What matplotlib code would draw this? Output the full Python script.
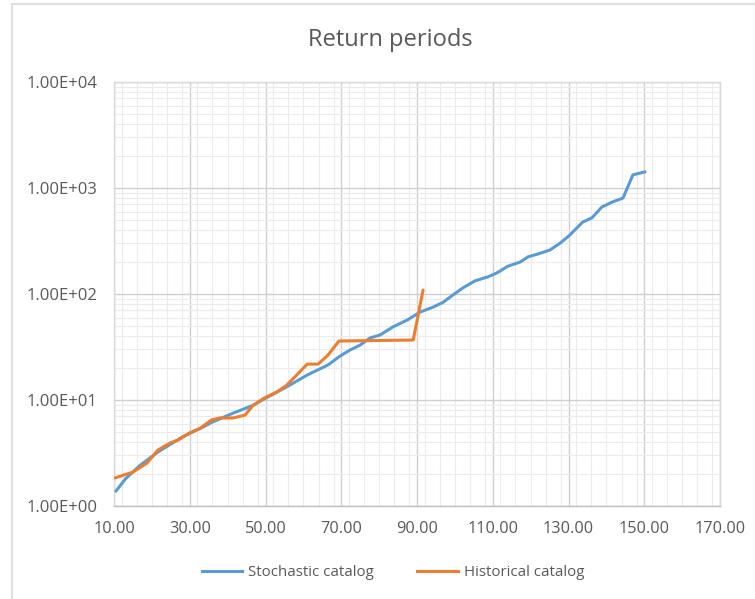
import matplotlib
matplotlib.use("Agg")
import matplotlib.pyplot as plt
from matplotlib.ticker import MultipleLocator, LogLocator, FixedLocator, FuncFormatter, NullFormatter
from matplotlib.lines import Line2D

# ---- data ----
stoch_x = [10.5, 13.0, 17.0, 21.6, 28.0, 33.5, 36.0, 41.4, 46.7, 49.6, 55.6, 61.0, 66.5,
           69.7, 72.3, 75.0, 77.6, 80.2, 83.7, 87.5, 90.8, 94.2, 96.9, 99.5, 102.1, 105.3,
           108.7, 111.1, 114.0, 117.2, 119.3, 122.0, 125.1, 127.8, 130.4, 132.2, 133.8,
           136.2, 138.8, 141.7, 144.4, 147.0, 150.2]
stoch_y = [1.38, 1.8, 2.44, 3.23, 4.47, 5.56, 6.2, 7.5, 8.9, 10.2, 13.3, 17.2, 21.4,
           26.0, 29.6, 33.0, 38.5, 41.0, 49.0, 57.0, 67.6, 75.0, 83.5, 98.0, 114.0, 133.0,
           145.0, 158.0, 183.0, 200.0, 224.0, 239.0, 260.0, 302.0, 361.0, 420.0, 478.0,
           523.0, 662.0, 741.0, 804.0, 1330.0, 1420.0]

hist_x = [10.3, 15.0, 18.7, 21.6, 24.8, 27.0, 30.0, 32.7, 35.8, 38.0, 41.4, 44.6, 46.7,
          49.6, 53.0, 55.6, 58.3, 61.0, 63.9, 66.5, 69.4, 89.0, 91.6]
hist_y = [1.84, 2.09, 2.54, 3.37, 3.93, 4.2, 4.9, 5.4, 6.5, 6.77, 6.77, 7.2, 8.9,
          10.4, 11.9, 13.8, 17.3, 21.8, 21.8, 26.5, 36.0, 36.8, 109.0]

x_ticks = [10, 30, 50, 70, 90, 110, 130, 150, 170]
y_ticks = [1, 10, 100, 1000, 10000]
title = "Return periods"
series_names = ["Stochastic catalog", "Historical catalog"]

BLUE = "#5B9BD5"
ORANGE = "#ED7D31"
TXT = "#595959"

plt.rcParams['font.family'] = ['Open Sans', 'DejaVu Sans']

fig = plt.figure(figsize=(7.55, 5.99), dpi=100)
ax = fig.add_axes([114/755, 1-506/599, (720-114)/755, (506-82)/599])

ax.plot(stoch_x, stoch_y, color=BLUE, lw=2.2, solid_joinstyle='round', solid_capstyle='round', zorder=3)
ax.plot(hist_x, hist_y, color=ORANGE, lw=2.2, solid_joinstyle='round', solid_capstyle='round', zorder=3)

ax.set_yscale('log')
ax.set_xlim(10, 170)
ax.set_ylim(1, 10000)

ax.xaxis.set_major_locator(FixedLocator(x_ticks))
ax.xaxis.set_minor_locator(MultipleLocator(4))
ax.yaxis.set_major_locator(FixedLocator(y_ticks))
ax.yaxis.set_minor_locator(LogLocator(base=10, subs=range(2, 10)))
ax.xaxis.set_major_formatter(FuncFormatter(lambda v, p: f"{v:.2f}"))
ax.yaxis.set_major_formatter(FuncFormatter(lambda v, p: f"{v:.2E}"))
ax.yaxis.set_minor_formatter(NullFormatter())

ax.grid(which='major', color='#d0d0d0', lw=1.0, zorder=0)
ax.grid(which='minor', color='#ebebeb', lw=0.8, zorder=0)
ax.set_axisbelow(True)

for s in ax.spines.values():
    s.set_color('#d9d9d9')
    s.set_linewidth(1.0)
ax.spines['bottom'].set_color('#bfbfbf')

ax.tick_params(which='both', length=0)
ax.tick_params(axis='y', pad=12, labelsize=12, labelcolor=TXT)
ax.tick_params(axis='x', pad=11, labelsize=11.7, labelcolor=TXT)

fig.text(390/755, 1-40/599, title, ha='center', va='center', fontsize=17, color=TXT)

handles = [Line2D([], [], color=BLUE, lw=2.2), Line2D([], [], color=ORANGE, lw=2.2)]
fig.legend(handles, series_names, loc='center', bbox_to_anchor=(393/755, 1-573/599),
           ncol=2, frameon=False, fontsize=10.8, labelcolor=TXT, handlelength=2.7,
           handletextpad=0.4, columnspacing=2.9)

# outer chart frame
fig.add_artist(Line2D([12/755, 12/755], [0, 1-4/599], transform=fig.transFigure, color='#d9d9d9', lw=1.2))
fig.add_artist(Line2D([12/755, 1], [1-4/599, 1-4/599], transform=fig.transFigure, color='#d9d9d9', lw=1.2))

fig.savefig("out.png", dpi=100)
